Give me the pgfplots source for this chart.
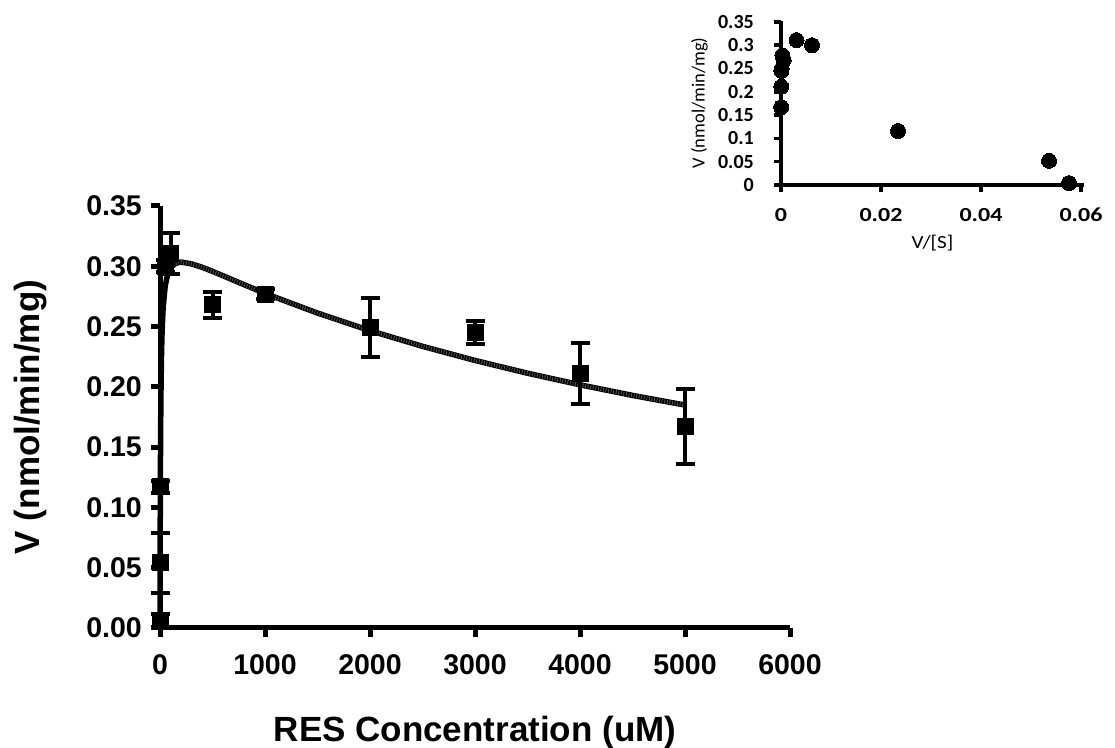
\documentclass[border=0pt]{standalone}
\usepackage{fontspec}
\setmainfont{Liberation Sans}
\newfontfamily\carlito{Carlito}
\usepackage{pgfplots}
\usepackage{pgfplotstable}
\pgfplotsset{compat=1.18}

% Initial rates, mean and SD (RES in uM, V in nmol/min/mg)
\pgfplotstableread{
S      V      err
0.1    0.006  0.006
1      0.054  0.025
5      0.117  0.005
50     0.300  0.005
100    0.311  0.017
500    0.268  0.011
1000   0.277  0.004
2000   0.249  0.0245
3000   0.245  0.0095
4000   0.211  0.0255
5000   0.167  0.031
}\rates

% Eadie-Hofstee transform: V against V/[S]
\pgfplotstableread{
VS        V
0.00003   0.167
0.00005   0.211
0.00008   0.245
0.000125  0.249
0.000278  0.278
0.00054   0.268
0.0031    0.311
0.0062    0.300
0.0234    0.116
0.0536    0.052
0.0576    0.004
}\eadie

% Substrate-inhibition fit evaluated at selected concentrations
\pgfplotstableread{
S      V
0      0
0.5    0.0254
1      0.0471
2      0.0821
3      0.109
5      0.148
7.5    0.180
10     0.2018
15     0.2295
20     0.2464
30     0.2659
50     0.2840
75     0.2940
100    0.2990
150    0.3025
200    0.3035
300    0.3020
400    0.2992
500    0.2958
750    0.2866
1000   0.2775
1500   0.2612
2000   0.2466
2500   0.2336
3000   0.2219
3500   0.2113
4000   0.2017
4500   0.1929
5000   0.1849
}\fit

\begin{document}
\begin{tikzpicture}[x=1bp,y=1bp]
\path[use as bounding box] (0,0) rectangle (1115,748);

\begin{axis}[
  at={(160bp,120bp)}, anchor=south west,
  scale only axis, width=630bp, height=422bp,
  xmin=0, xmax=6000, ymin=0, ymax=0.35,
  axis x line*=bottom, axis y line*=left,
  axis line style={line width=5bp, -},
  tick align=outside, major tick length=9bp,
  tick style={line width=5bp, black},
  xtick={0,1000,2000,3000,4000,5000,6000},
  ytick={0,0.05,0.1,0.15,0.2,0.25,0.3,0.35},
  /pgf/number format/assume math mode=true,
  xticklabel style={/pgf/number format/1000 sep={}, inner sep=0pt, yshift=-17bp},
  yticklabel style={/pgf/number format/.cd, fixed, fixed zerofill, precision=2, /tikz/.cd, inner sep=0pt, xshift=-9bp},
  tick label style={font=\fontsize{28.5bp}{30bp}\selectfont\bfseries},
  xlabel={RES Concentration (uM)},
  xlabel style={at={(axis description cs:0.5,-0.2678)}, anchor=base, inner sep=0pt,
    font=\fontsize{35bp}{38bp}\selectfont\bfseries},
  ylabel={V (nmol/min/mg)},
  ylabel style={at={(axis description cs:-0.192,0.5)}, rotate=0, anchor=base, inner sep=0pt,
    font=\fontsize{35bp}{38bp}\selectfont\bfseries},
  clip=false,
]
\addplot[black, line width=5.5bp, line join=round] table[x=S, y=V] {\fit};
\addplot[black!65, line width=4bp, dash pattern=on 0.8bp off 1.8bp] table[x=S, y=V, restrict x to domain=150:5000] {\fit};
\addplot[black, only marks, mark=square*, mark size=8bp, mark options={line width=0pt},
  error bars/.cd, y dir=both, y explicit,
  error bar style={line width=4bp},
  error mark options={rotate=90, line width=4bp, mark size=9.5bp}]
  table[x=S, y=V, y error=err] {\rates};
\end{axis}

\begin{axis}[
  at={(781bp,563bp)}, anchor=south west,
  scale only axis, width=303bp, height=164bp,
  xmin=0, xmax=0.0606, ymin=0, ymax=0.352,
  axis x line*=bottom, axis y line*=left,
  axis line style={line width=4bp, -},
  tick align=outside, major tick length=7bp,
  tick style={line width=3.5bp, black},
  scaled x ticks=false, scaled y ticks=false,
  xtick={0,0.02,0.04,0.06}, xticklabels={0,0.02,0.04,0.06},
  ytick={0,0.05,0.1,0.15,0.2,0.25,0.3,0.35},
  yticklabels={0,0.05,0.1,0.15,0.2,0.25,0.3,0.35},
  tick label style={font=\carlito\fontsize{20bp}{22bp}\selectfont\bfseries, inner sep=0pt},
  xticklabel style={xscale=1.2, yshift=-16bp},
  yticklabel style={xshift=-20bp},
  xlabel={V/[S]},
  xlabel style={at={(axis description cs:0.5,-0.387)}, anchor=base, inner sep=0pt, xscale=1.14,
    font=\carlito\fontsize{18.5bp}{20bp}\selectfont},
  ylabel={V (nmol/min/mg)},
  ylabel style={at={(axis description cs:-0.269,0.5)}, anchor=center, inner sep=0pt,
    font=\carlito\fontsize{18.5bp}{20bp}\selectfont},
  clip=false,
]
\addplot[black, only marks, mark=*, mark size=7.5bp, mark options={line width=0pt}]
  table[x=VS, y=V] {\eadie};
\end{axis}
\end{tikzpicture}
\end{document}
